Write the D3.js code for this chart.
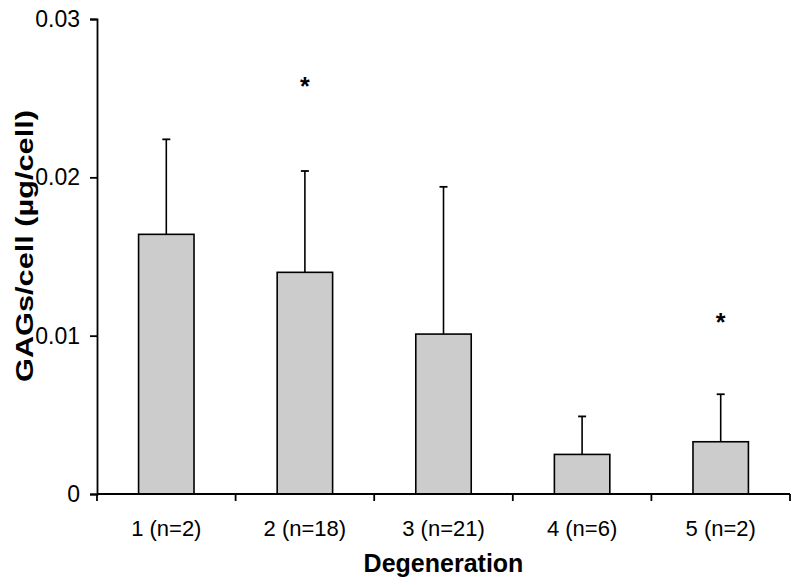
<!DOCTYPE html>
<html>
<head>
<meta charset="utf-8">
<script src="https://cdn.jsdelivr.net/npm/d3@7"></script>
<style>
  body { margin: 0; background: #fff; }
  svg { display: block; }
  text { font-family: Arial, "Liberation Sans", sans-serif; fill: #000; }
</style>
</head>
<body>
<svg width="800" height="585"></svg>
<script>
const WIDTH = 800;
const HEIGHT = 585;
const [X_LEFT, X_RIGHT] = [97, 790];
const [Y_BOTTOM, Y_TOP] = [494, 19];

// data
const categories = ["1 (n=2)", "2 (n=18)", "3 (n=21)", "4 (n=6)", "5 (n=2)"];
const means = [0.0164, 0.0140, 0.0101, 0.0025, 0.0033];
const errors = [0.0060, 0.0064, 0.0093, 0.0024, 0.0030];
const marks = ["", "*", "", "", "*"];
const markValues = [0, 0.0261, 0, 0, 0.0112];
const yTicks = [0, 0.01, 0.02, 0.03];

const rows = categories.map((c, i) => ({
  cat: c, mean: means[i], err: errors[i], mark: marks[i], markValue: markValues[i]
}));

const svg = d3.select("svg").attr("viewBox", `0 0 ${WIDTH} ${HEIGHT}`);

const x = d3.scaleBand().domain(categories).range([X_LEFT, X_RIGHT]).paddingInner(0.6).paddingOuter(0.3);
const y = d3.scaleLinear().domain([0, 0.03]).range([Y_BOTTOM, Y_TOP]);

// bars
svg.selectAll("rect.bar")
  .data(rows)
  .enter()
  .append("rect")
  .classed("bar", true)
  .attr("x", (d) => x(d.cat))
  .attr("y", (d) => y(d.mean))
  .attr("width", x.bandwidth())
  .attr("height", (d) => y(0) - y(d.mean))
  .attr("fill", "#cccccc")
  .attr("stroke", "#000")
  .attr("stroke-width", 1.6);

// upper error bars
const cx = (d) => x(d.cat) + x.bandwidth() / 2;
svg.selectAll("line.err")
  .data(rows)
  .enter()
  .append("line")
  .classed("err", true)
  .attr("x1", cx)
  .attr("x2", cx)
  .attr("y1", (d) => y(d.mean))
  .attr("y2", (d) => y(d.mean + d.err))
  .attr("stroke", "#000")
  .attr("stroke-width", 1.6);

svg.selectAll("line.cap")
  .data(rows)
  .enter()
  .append("line")
  .classed("cap", true)
  .attr("x1", (d) => cx(d) - 4)
  .attr("x2", (d) => cx(d) + 4)
  .attr("y1", (d) => y(d.mean + d.err))
  .attr("y2", (d) => y(d.mean + d.err))
  .attr("stroke", "#000")
  .attr("stroke-width", 1.8);

// significance marks
svg.selectAll("text.mark")
  .data(rows.filter((d) => d.mark))
  .enter()
  .append("text")
  .classed("mark", true)
  .attr("x", cx)
  .attr("y", (d) => y(d.markValue) + 14)
  .attr("text-anchor", "middle")
  .style("font-size", "25px")
  .style("font-weight", "bold")
  .text((d) => d.mark);

// y axis
const yAxis = svg.append("g")
  .attr("transform", `translate(${X_LEFT},0)`)
  .call(d3.axisLeft(y)
    .tickValues(yTicks)
    .tickSizeOuter(0)
    .tickSize(7)
    .tickPadding(10)
    .tickFormat((d) => (d === 0 ? "0" : d3.format(".2f")(d))));
yAxis.select(".domain").attr("stroke-width", 1.8);
yAxis.selectAll(".tick line").attr("stroke-width", 1.8);
yAxis.selectAll("text").style("font-size", "23px").style("font-family", "Arial, 'Liberation Sans', sans-serif");

// x axis: line, boundary ticks, labels
const xAxis = svg.append("g");
xAxis.append("line")
  .attr("x1", X_LEFT)
  .attr("x2", X_RIGHT)
  .attr("y1", y(0))
  .attr("y2", y(0))
  .attr("stroke", "#000")
  .attr("stroke-width", 1.8);
const bounds = d3.range(categories.length + 1).map((i) => X_LEFT + i * x.step());
xAxis.selectAll("line.bound")
  .data(bounds)
  .enter()
  .append("line")
  .classed("bound", true)
  .attr("x1", (d) => d)
  .attr("x2", (d) => d)
  .attr("y1", y(0))
  .attr("y2", y(0) + 7)
  .attr("stroke", "#000")
  .attr("stroke-width", 1.8);
xAxis.selectAll("text")
  .data(categories)
  .enter()
  .append("text")
  .attr("x", (d) => x(d) + x.bandwidth() / 2)
  .attr("y", 536)
  .attr("text-anchor", "middle")
  .style("font-size", "22px")
  .text((d) => d);

// axis titles
svg.append("text")
  .attr("x", (X_LEFT + X_RIGHT) / 2)
  .attr("y", 572)
  .attr("text-anchor", "middle")
  .style("font-size", "25px")
  .style("font-weight", "bold")
  .text("Degeneration");

svg.append("text")
  .attr("transform", "translate(33,246) rotate(-90)")
  .attr("text-anchor", "middle")
  .attr("textLength", 272)
  .attr("lengthAdjust", "spacingAndGlyphs")
  .style("font-size", "24px")
  .style("font-weight", "bold")
  .text("GAGs/cell (\u00b5g/cell)");
</script>
</body>
</html>
